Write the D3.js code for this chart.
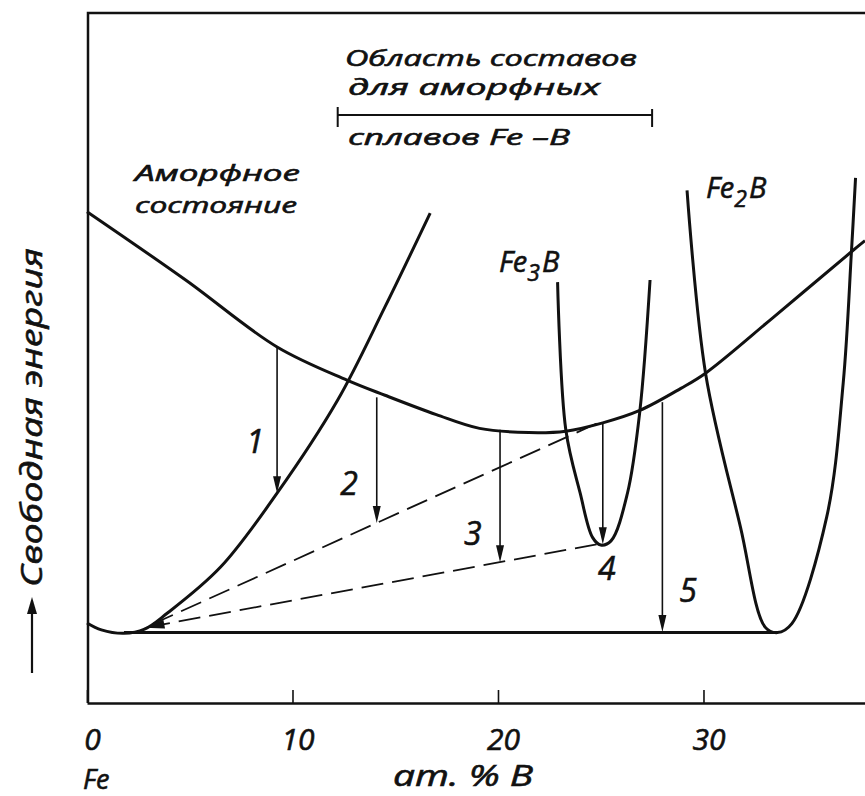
<!DOCTYPE html>
<html>
<head>
<meta charset="utf-8">
<script src="https://cdn.jsdelivr.net/npm/d3@7"></script>
<style>
  body { margin: 0; background: #fff; }
  text { font-family: 'Open Sans', 'DejaVu Sans', sans-serif; font-style: italic; fill: #111;
         stroke: #111; stroke-width: 0.6; }
</style>
</head>
<body>
<script>
// free energy curves, x = at.% B, y = energy (arbitrary units, 0 = bottom axis)
const amorphousCurve = [[0, 71.2], [4.8, 61.3], [9.25, 51.6], [12.65, 46.8], [14.5, 44.6],
  [17, 41.8], [19.1, 39.8], [21.5, 39.2], [23.3, 39.4], [25.1, 40.6], [26.9, 42.4],
  [28.9, 45.6], [30.1, 47.8], [33.4, 55.9], [37.2, 65.4], [37.86, 67.0]];
const alphaFeCurve = [[0, 11.6], [0.7, 10.6], [1.8, 10.1], [2.8, 10.7], [3.9, 13.0],
  [6.5, 19.7], [9.25, 30.4], [12.2, 43.9], [14.5, 57.4], [16.7, 71.0]];
const fe3bCurve = [[22.9, 61.0], [23.3, 39.6], [24.0, 30.4], [24.6, 24.0], [25.0, 22.9],
  [25.5, 23.5], [26.3, 30.4], [26.9, 42.2], [27.4, 61.3]];
const fe2bCurve = [[29.2, 74.3], [30.1, 47.8], [31.8, 25.5], [33.0, 11.0], [33.6, 10.2],
  [34.3, 11.5], [36.0, 27.0], [36.8, 46.4], [37.2, 65.4], [37.4, 76.1]];
const equilibriumLine = [[1.8, 10.2], [33.6, 10.2]];

// metastable tangents from alpha-Fe
const tangentUpper = [[2.8, 10.9], [24.8, 40.5]];
const tangentLower = [[2.8, 10.9], [24.8, 23.0]];

// crystallisation paths
const arrowX = [9.25, 14.1, 20.1, 25.1, 28.0];
const arrowFrom = [51.6, 44.3, 39.6, 40.6, 43.6];
const arrowTo = [30.4, 26.1, 20.4, 23.0, 10.3];
const arrowLabels = ['1', '2', '3', '4', '5'];
const arrowLabelPos = [[8.18, 36.2], [12.75, 30.1], [18.78, 22.9], [25.3, 17.8], [29.25, 14.6]];

const xTicks = [0, 10, 20, 30];
const amorphousRange = [12.2, 27.5];

const W = 865, H = 796;
const x = d3.scaleLinear().domain([0, 37.86]).range([87, 865]);
const y = d3.scaleLinear().domain([0, 100]).range([703, 13]);

const svg = d3.select('body').append('svg')
    .attr('width', W)
    .attr('height', H);

const ink = '#111';

// frame (top + left), bottom comes from the axis
svg.append('path')
    .attr('d', 'M865,' + y(100) + 'H' + 88 + 'V' + y(0))
    .attr('fill', 'none').attr('stroke', ink).attr('stroke-width', 2.5);

const axis = svg.append('g')
    .attr('transform', 'translate(0,' + y(0) + ')')
    .call(d3.axisBottom(x).tickValues(xTicks).tickSizeInner(-13)
        .tickSizeOuter(0).tickPadding(26));
axis.select('.domain').attr('stroke', ink).attr('stroke-width', 2.5);
axis.selectAll('line').attr('stroke', ink).attr('stroke-width', 1.6);
axis.selectAll('text')
    .attr('dx', 5)
    .attr('font-size', 30)
    .style('font-family', null);

svg.append('text').attr('x', 83).attr('y', 789).attr('font-size', 27).text('Fe');
svg.append('text').attr('x', 393).attr('y', 786).attr('font-size', 29)
    .attr('textLength', 140).attr('lengthAdjust', 'spacingAndGlyphs').text('ат. % B');

// y label
const yl = svg.append('g').attr('transform', 'translate(42,587) rotate(-90)');
yl.append('text').attr('font-size', 30)
    .attr('textLength', 339).attr('lengthAdjust', 'spacingAndGlyphs')
    .text('Свободная энергия');
svg.append('line').attr('x1', 32).attr('x2', 32).attr('y1', 673).attr('y2', 610)
    .attr('stroke', ink).attr('stroke-width', 2.2);
svg.append('path').attr('d', 'M32,597L27,614L37,614Z').attr('fill', ink);

// curves
const line = d3.line()
    .x((d) => x(d[0]))
    .y((d) => y(d[1]))
    .curve(d3.curveCatmullRom.alpha(0.5));
const straight = d3.line().x((d) => x(d[0])).y((d) => y(d[1]));

for (const c of [amorphousCurve, alphaFeCurve, fe3bCurve, fe2bCurve]) {
  svg.append('path').attr('d', line(c))
      .attr('fill', 'none').attr('stroke', ink).attr('stroke-width', 3);
}
svg.append('path').attr('d', straight(equilibriumLine))
    .attr('fill', 'none').attr('stroke', ink).attr('stroke-width', 3);

// dashed tangents
for (const t of [tangentUpper, tangentLower]) {
  svg.append('path').attr('d', straight(t.slice().reverse()))
      .attr('fill', 'none').attr('stroke', ink).attr('stroke-width', 1.8)
      .attr('stroke-dasharray', '22,9');
}
// arrowhead where the tangents meet alpha-Fe
{
  const [a, b] = tangentLower;
  const ax = x(a[0]), ay = y(a[1]);
  const ang = Math.atan2(y(b[1]) - ay, x(b[0]) - ax);
  const L = 20, w = 4.5;
  const bx = ax + L * Math.cos(ang), by = ay + L * Math.sin(ang);
  svg.append('path')
      .attr('d', 'M' + ax + ',' + ay +
        'L' + (bx - w * Math.sin(ang)) + ',' + (by + w * Math.cos(ang)) +
        'L' + (bx + w * Math.sin(ang)) + ',' + (by - w * Math.cos(ang)) + 'Z')
      .attr('fill', ink);
}

// transformation arrows
arrowX.forEach((ax, i) => {
  const px = x(ax), y0 = y(arrowFrom[i]), y1 = y(arrowTo[i]);
  svg.append('line').attr('x1', px).attr('x2', px).attr('y1', y0).attr('y2', y1 - 10)
      .attr('stroke', ink).attr('stroke-width', 1.6);
  svg.append('path')
      .attr('d', 'M' + px + ',' + y1 + 'L' + (px - 4) + ',' + (y1 - 17) +
        'L' + (px + 4) + ',' + (y1 - 17) + 'Z')
      .attr('fill', ink);
  svg.append('text')
      .attr('x', x(arrowLabelPos[i][0]))
      .attr('y', y(arrowLabelPos[i][1]))
      .attr('text-anchor', 'middle')
      .attr('font-size', 32)
      .text(arrowLabels[i]);
});

// range of amorphous compositions
const by = 115;
svg.append('path')
    .attr('d', 'M' + x(amorphousRange[0]) + ',' + (by - 8) + 'V' + (by + 12) +
      'M' + x(amorphousRange[0]) + ',' + by + 'H' + x(amorphousRange[1]) +
      'M' + x(amorphousRange[1]) + ',' + (by - 6) + 'V' + (by + 12))
    .attr('fill', 'none').attr('stroke', ink).attr('stroke-width', 2);

const ann = [
  {t: 'Область составов', x: 345, y: 66, len: 292, fs: 21},
  {t: 'для аморфных', x: 348, y: 95, len: 252, fs: 21},
  {t: 'сплавов Fe –B', x: 348, y: 145, len: 222, fs: 22},
  {t: 'Аморфное', x: 135, y: 181, len: 165, fs: 21.5},
  {t: 'состояние', x: 135, y: 213, len: 162, fs: 21.5},
];
ann.forEach((a) => {
  svg.append('text').attr('x', a.x).attr('y', a.y).attr('font-size', a.fs)
      .attr('textLength', a.len).attr('lengthAdjust', 'spacingAndGlyphs')
      .text(a.t);
});

function compound(px, py, sub) {
  const t = svg.append('text').attr('x', px).attr('y', py).attr('font-size', 29);
  t.append('tspan').text('Fe');
  t.append('tspan').attr('dy', 9).attr('font-size', 23).text(sub);
  t.append('tspan').attr('dy', -9).attr('dx', 2).text('B');
}
compound(499, 272, '3');
compound(706, 198, '2');
</script>
</body>
</html>
